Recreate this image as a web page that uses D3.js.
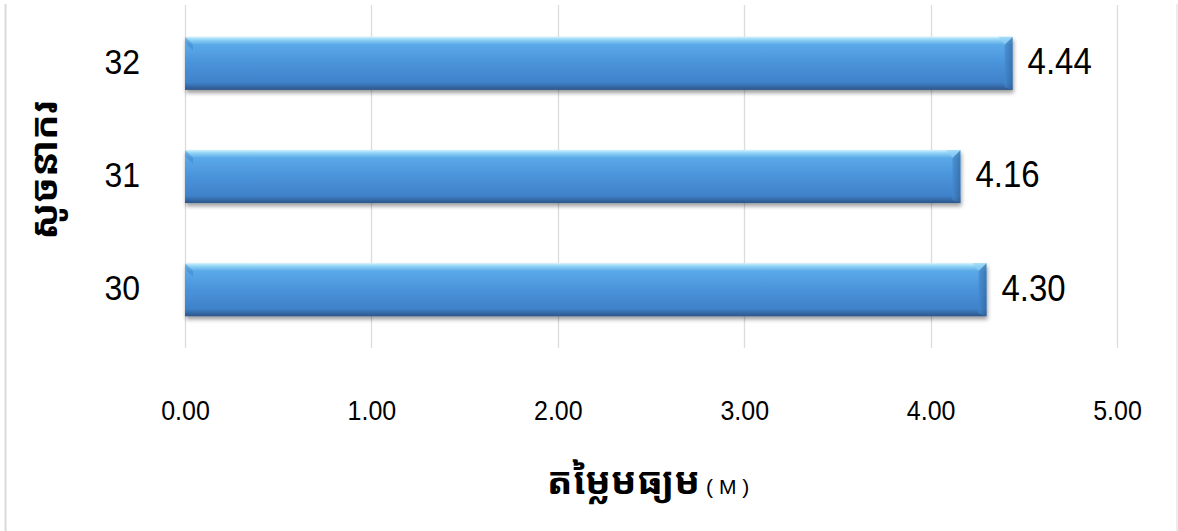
<!DOCTYPE html>
<html>
<head>
<meta charset="utf-8">
<script src="https://cdn.jsdelivr.net/npm/d3@7"></script>
<style>
  html, body { margin: 0; padding: 0; background: #fff; }
  svg { display: block; }
  .num { font-family: "Liberation Sans", Arial, Helvetica, sans-serif; fill: #000; }
  .khm { font-family: "Noto Sans Khmer", "Khmer OS", "Khmer OS System", "Noto Sans", sans-serif; font-weight: bold; fill: #000; }
</style>
</head>
<body>
<svg id="chart" width="1178" height="531"></svg>
<script>
// ---- data ----
const categories = ["30", "31", "32"];
const values = [4.30, 4.16, 4.44];
const xTicks = [0, 1, 2, 3, 4, 5];
const xTitleKhmer = "តម្លៃមធ្យម";
const xTitleUnit = " ( M )";
const yTitle = "សូចនាករ";

// ---- layout ----
const W = 1178, H = 531;
const plot = { left: 185, right: 1117, top: 5, bottom: 348 };
const stretch = 1.12;

const svg = d3.select("#chart");

const defs = svg.append("defs");
const grad = defs.append("linearGradient")
  .attr("id", "barGrad").attr("x1", 0).attr("y1", 0).attr("x2", 0).attr("y2", 1);
[[0, "#d2f2fd"], [0.06, "#8ed2f5"], [0.15, "#5aa9e8"], [0.5, "#4a93da"], [0.86, "#3f82ca"], [0.94, "#3569a6"], [1, "#2b5585"]]
  .forEach(([o, c]) => grad.append("stop").attr("offset", o).attr("stop-color", c));

const endGrad = defs.append("linearGradient")
  .attr("id", "endGrad").attr("x1", 0).attr("y1", 0).attr("x2", 1).attr("y2", 0);
[[0, "#4489cd"], [1, "#30649c"]].forEach(([o, c]) => endGrad.append("stop").attr("offset", o).attr("stop-color", c));

const shadow = defs.append("filter").attr("id", "shadow")
  .attr("x", "-5%").attr("y", "-20%").attr("width", "110%").attr("height", "150%");
shadow.append("feGaussianBlur").attr("in", "SourceAlpha").attr("stdDeviation", 2);
shadow.append("feOffset").attr("dx", 1).attr("dy", 3).attr("result", "off");
shadow.append("feComponentTransfer").append("feFuncA").attr("type", "linear").attr("slope", 0.4);
const merge = shadow.append("feMerge");
merge.append("feMergeNode");
merge.append("feMergeNode").attr("in", "SourceGraphic");

// border
svg.append("line").attr("x1", 5.5).attr("x2", 5.5).attr("y1", 4).attr("y2", H).attr("stroke", "#d9d9d9").attr("stroke-width", 2);
svg.append("line").attr("x1", 1177).attr("x2", 1177).attr("y1", 4).attr("y2", H).attr("stroke", "#e6e6e6").attr("stroke-width", 1.5);

const x = d3.scaleLinear().domain([0, 5]).range([plot.left, plot.right]);
const y = d3.scaleBand().domain(categories.slice().reverse())
  .range([plot.top, plot.bottom]).paddingInner(0.53).paddingOuter(0.28);

// gridlines
svg.append("g").selectAll("line").data(xTicks).join("line")
  .attr("x1", d => Math.round(x(d)) + 0.5).attr("x2", d => Math.round(x(d)) + 0.5)
  .attr("y1", plot.top).attr("y2", plot.bottom)
  .attr("stroke", "#dcdcdc").attr("stroke-width", 1.3);

// x axis (labels only)
const xAxis = d3.axisBottom(x).tickValues(xTicks).tickFormat(d3.format(".2f")).tickSize(0).tickPadding(0);
const gx = svg.append("g").attr("transform", `translate(0,${plot.bottom + 62})`).call(xAxis);
gx.select(".domain").remove();
gx.selectAll("text").attr("font-size", 25).attr("fill", "#000").attr("dy", "0.35em").attr("y", 0)
  .attr("transform", `scale(1,${stretch})`)
  .style("font-family", "'Liberation Sans', Arial, sans-serif");

// y axis (labels only)
const yAxis = d3.axisLeft(y).tickSize(0).tickPadding(0);
const gy = svg.append("g").attr("transform", `translate(140,-2)`).call(yAxis);
gy.select(".domain").remove();
gy.selectAll("text").attr("font-size", 32).attr("fill", "#000").attr("dy", "0.35em")
  .attr("transform", `scale(1,${stretch})`)
  .style("font-family", "'Liberation Sans', Arial, sans-serif");

// bars
const data = categories.map((c, i) => ({ c, v: values[i] }));
const bars = svg.append("g").selectAll("g").data(data).join("g");
bars.append("rect")
  .attr("x", x(0)).attr("y", d => y(d.c))
  .attr("width", d => x(d.v) - x(0)).attr("height", y.bandwidth())
  .attr("fill", "url(#barGrad)").attr("filter", "url(#shadow)");
// right-end bevel
bars.append("path")
  .attr("d", d => {
    const x1 = x(d.v), y0 = y(d.c), h = y.bandwidth(), b = 8;
    return `M${x1 - b},${y0 + b} L${x1},${y0} L${x1},${y0 + h} L${x1 - b},${y0 + h - 3} Z`;
  })
  .attr("fill", "url(#endGrad)").attr("opacity", 0.7);
bars.append("path")
  .attr("d", d => {
    const x1 = x(d.v), y0 = y(d.c), b = 8;
    return `M${x1 - b},${y0 + b} L${x1},${y0} L${x1 - 14},${y0} Z`;
  })
  .attr("fill", "#8fd0f6").attr("opacity", 0.6);
// left-top bevel
bars.append("path")
  .attr("d", d => {
    const x0 = x(0), y0 = y(d.c);
    return `M${x0},${y0} L${x0 + 8},${y0 + 8} L${x0 + 8},${y0 + 14} L${x0},${y0 + 6} Z`;
  })
  .attr("fill", "#3a7cc2").attr("opacity", 0.4);

// value labels
bars.append("text")
  .attr("class", "num")
  .attr("transform", d => `translate(${x(d.v) + 15},${y(d.c) + y.bandwidth() / 2 - 2}) scale(1,${stretch})`)
  .attr("dy", "0.35em")
  .attr("font-size", 33)
  .text(d => d.v.toFixed(2));

// x title
const xt = svg.append("text").attr("x", 648).attr("y", 494).attr("text-anchor", "middle");
xt.append("tspan").attr("class", "khm").attr("font-size", 38).text(xTitleKhmer);
xt.append("tspan").attr("class", "num").attr("font-size", 21).text(xTitleUnit);

// y title
svg.append("text").attr("class", "khm")
  .attr("transform", `translate(44,170) rotate(-90)`)
  .attr("text-anchor", "middle").attr("dy", "0.35em")
  .attr("font-size", 38).text(yTitle);
</script>
</body>
</html>
